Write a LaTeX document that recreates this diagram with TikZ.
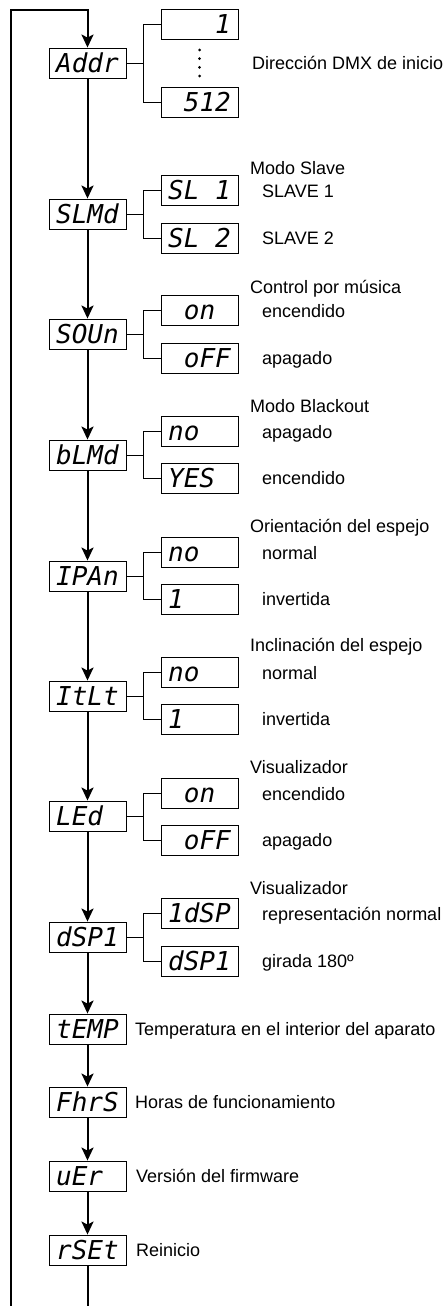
\documentclass[tikz,border=0pt]{standalone}
\usepackage{fontspec}
\setmainfont{Liberation Sans}
\newfontfamily\segfont{DejaVu Sans Mono}
\usetikzlibrary{arrows.meta}
\newcommand{\blnk}{\phantom{0}}
\begin{document}
\begin{tikzpicture}[x=1pt,y=-1pt,
  mainbox/.style={draw, line width=0.9pt, minimum width=77pt, minimum height=30pt, inner sep=0pt,
    text height=19pt, text depth=0pt, font=\segfont\itshape\fontsize{26}{26}\selectfont},
  flow/.style={line width=2pt, line join=miter, -{Stealth[length=13pt,width=12pt,inset=3pt]}},
  branch/.style={line width=0.9pt},
  lbl/.style={anchor=base west, inner sep=0pt, yshift=-6.5pt, font=\fontsize{18}{20}\selectfont},
  dot/.style={fill, circle, inner sep=0pt, minimum size=3pt}]
\useasboundingbox (0,0) rectangle (447,1306);
% main column
\node[mainbox] (addr) at (87.5,63) {Addr};
\node[mainbox] (slmd) at (87.5,214) {SLMd};
\node[mainbox] (soun) at (87.5,334) {SOUn};
\node[mainbox] (blmd) at (87.5,455) {bLMd};
\node[mainbox] (ipan) at (87.5,576) {IPAn};
\node[mainbox] (itlt) at (87.5,696) {ItLt};
\node[mainbox] (led)  at (87.5,816) {LEd\blnk};
\node[mainbox] (dsp)  at (87.5,937) {dSP1};
\node[mainbox] (temp) at (87.5,1029) {tEMP};
\node[mainbox] (fhrs) at (87.5,1102) {FhrS};
\node[mainbox] (uer)  at (87.5,1176) {uEr\blnk};
\node[mainbox] (rset) at (87.5,1250) {rSEt};
% sub boxes
\node[mainbox] (a1) at (199.5,24) {\blnk\blnk\blnk1};
\node[mainbox] (a2) at (199.5,102) {\blnk512};
\node[dot] (d1) at (199.5,50) {};
\node[dot] (d2) at (199.5,58.7) {};
\node[dot] (d3) at (199.5,67.3) {};
\node[dot] (d4) at (199.5,76) {};
\node[mainbox] (s1) at (199.5,190) {SL\blnk1};
\node[mainbox] (s2) at (199.5,238) {SL\blnk2};
\node[mainbox] (o1) at (199.5,310) {\blnk on\blnk};
\node[mainbox] (o2) at (199.5,358) {\blnk oFF};
\node[mainbox] (b1) at (199.5,431) {no\blnk\blnk};
\node[mainbox] (b2) at (199.5,478) {YES\blnk};
\node[mainbox] (p1) at (199.5,552) {no\blnk\blnk};
\node[mainbox] (p2) at (199.5,599) {1\blnk\blnk\blnk};
\node[mainbox] (t1) at (199.5,672) {no\blnk\blnk};
\node[mainbox] (t2) at (199.5,719) {1\blnk\blnk\blnk};
\node[mainbox] (l1) at (199.5,793) {\blnk on\blnk};
\node[mainbox] (l2) at (199.5,840) {\blnk oFF};
\node[mainbox] (e1) at (199.5,913) {1dSP};
\node[mainbox] (e2) at (199.5,961) {dSP1};
% flow arrows
\draw[flow] (addr) -- (slmd);
\draw[flow] (slmd) -- (soun);
\draw[flow] (soun) -- (blmd);
\draw[flow] (blmd) -- (ipan);
\draw[flow] (ipan) -- (itlt);
\draw[flow] (itlt) -- (led);
\draw[flow] (led) -- (dsp);
\draw[flow] (dsp) -- (temp);
\draw[flow] (temp) -- (fhrs);
\draw[flow] (fhrs) -- (uer);
\draw[flow] (uer) -- (rset);
\coordinate (bl) at (10.5,1312);
\coordinate (tl) at (10.5,10.5);
\draw[flow] (rset.south) |- (bl) |- (addr.north |- tl) -- (addr.north);
% branches
\foreach \m/\u/\v in {addr/a1/a2, slmd/s1/s2, soun/o1/o2, blmd/b1/b2, ipan/p1/p2, itlt/t1/t2, led/l1/l2, dsp/e1/e2}{
  \draw[branch] (\m.east) -- ++(17,0) coordinate (j\m) |- (\u.west);
  \draw[branch] (j\m) |- (\v.west);
}
% labels
\node[lbl] (la) at (252,63) {Dirección DMX de inicio};
\node[lbl] (lsh) at (250,168) {Modo Slave};
\node[lbl] (ls1) at (262,191) {SLAVE 1};
\node[lbl] (ls2) at (262,238) {SLAVE 2};
\node[lbl] (loh) at (250,287) {Control por música};
\node[lbl] (lo1) at (262,311) {encendido};
\node[lbl] (lo2) at (262,358) {apagado};
\node[lbl] (lbh) at (250,406) {Modo Blackout};
\node[lbl] (lb1) at (262,432) {apagado};
\node[lbl] (lb2) at (262,478) {encendido};
\node[lbl] (lph) at (250,526) {Orientación del espejo};
\node[lbl] (lp1) at (262,553) {normal};
\node[lbl] (lp2) at (262,599) {invertida};
\node[lbl] (lth) at (250,645) {Inclinación del espejo};
\node[lbl] (lt1) at (262,673) {normal};
\node[lbl] (lt2) at (262,719) {invertida};
\node[lbl] (llh) at (250,767) {Visualizador};
\node[lbl] (ll1) at (262,794) {encendido};
\node[lbl] (ll2) at (262,840) {apagado};
\node[lbl] (leh) at (250,888) {Visualizador};
\node[lbl] (le1) at (262,914) {representación normal};
\node[lbl] (le2) at (262,961) {girada 180º};
\node[lbl] (ltemp) at (135,1029) {Temperatura en el interior del aparato};
\node[lbl] (lfhrs) at (135,1102) {Horas de funcionamiento};
\node[lbl] (luer) at (136,1176) {Versión del firmware};
\node[lbl] (lrset) at (136,1250) {Reinicio};
\end{tikzpicture}
\end{document}
